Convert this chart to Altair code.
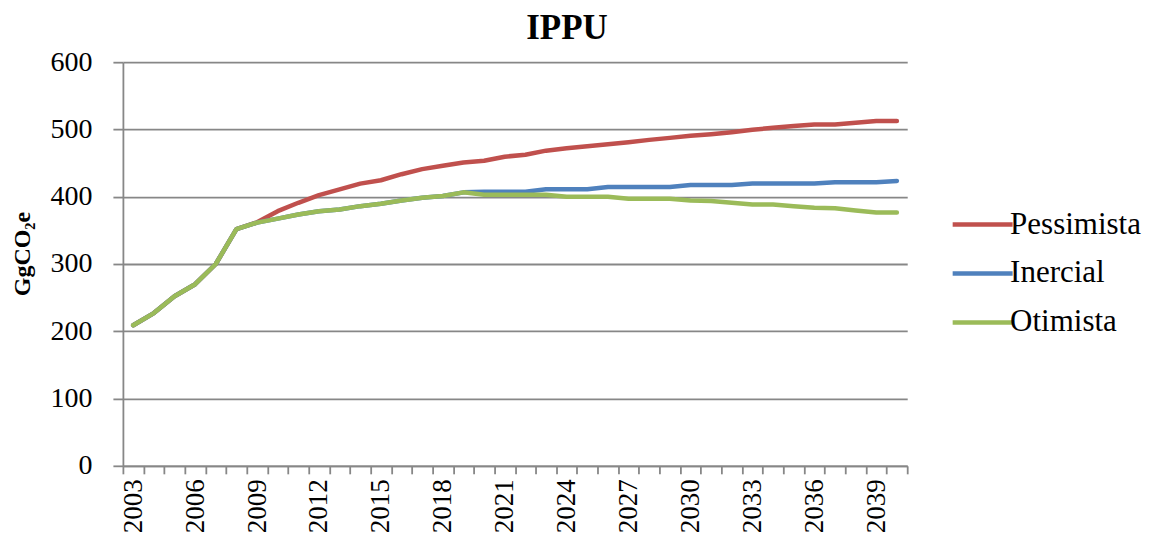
import altair as alt
import pandas as pd

years = list(range(2003, 2041))

pessimista = [209, 227, 252, 270, 300, 352, 362, 378.5, 391, 402.5, 411, 419.5, 424.5,
              433.5, 441, 446, 451, 453.5, 459.5, 462.5, 468.5, 472, 475, 478, 481,
              484.5, 487.5, 490.5, 493, 496, 499.5, 502.5, 505, 507.5, 507.5, 510,
              512.5, 512.5]

inercial = [209, 227, 252, 270, 300, 352, 361.5, 367.5, 373.5, 378.5, 381, 386, 389.5,
            394.5, 398.5, 401, 406.5, 407.5, 407.5, 407.5, 411, 411, 411, 414.5, 414.5,
            414.5, 414.5, 417.5, 417.5, 417.5, 419.5, 419.5, 419.5, 419.5, 421.5, 421.5,
            421.5, 423.5]

otimista = [209, 227, 252, 270, 300, 352, 361.5, 367.5, 373.5, 378.5, 381, 386, 389.5,
            394.5, 398.5, 401, 406.5, 403, 403, 403, 403, 400, 400, 400, 397, 397, 397,
            394.5, 393.5, 391, 388.5, 388.5, 386, 383.5, 383, 379.5, 376.5, 376.5]

series = ["Pessimista", "Inercial", "Otimista"]
colors = ["#C0504D", "#4F81BD", "#9BBB59"]
y_ticks = [0, 100, 200, 300, 400, 500, 600]

rows = []
for name, vals in zip(series, [pessimista, inercial, otimista]):
    for yr, v in zip(years, vals):
        rows.append({"Ano": yr, "Cenario": name, "Valor": v})
df = pd.DataFrame(rows)

FONT = "Liberation Serif"
GRAY = "#878787"

x_enc = alt.X(
    "Ano:O",
    bandPosition=0.5,
    scale=alt.Scale(type="band", paddingInner=0, paddingOuter=0),
    axis=alt.Axis(
        title=None,
        labelAngle=-90,
        labelExpr="(datum.value - 2003) % 3 == 0 ? datum.label : ''",
        labelOverlap=False,
        tickBand="extent",
        tickSize=8,
        tickColor=GRAY,
        tickWidth=1.8,
        domainColor=GRAY,
        domainWidth=1.8,
        labelPadding=5,
        labelFont=FONT,
        labelFontSize=27,
        labelColor="black",
        grid=False,
    ),
)

y_enc = alt.Y(
    "Valor:Q",
    scale=alt.Scale(domain=[0, 600], nice=False, zero=True),
    axis=alt.Axis(
        title="GgCO₂e",
        values=y_ticks,
        grid=True,
        gridColor=GRAY,
        gridWidth=1.8,
        domainColor=GRAY,
        domainWidth=1.8,
        tickColor=GRAY,
        tickWidth=1.8,
        tickSize=10,
        labelPadding=21,
        labelFont=FONT,
        labelFontSize=28,
        labelColor="black",
        titleFont=FONT,
        titleFontSize=24,
        titleFontWeight="bold",
        titleColor="black",
        titleX=-93,
        titleY=191.5,
        titleAngle=-90,
        titleAlign="center",
        titleBaseline="alphabetic",
    ),
)

color_enc = alt.Color(
    "Cenario:N",
    scale=alt.Scale(domain=series, range=colors),
    legend=alt.Legend(
        title=None,
        orient="none",
        legendX=825,
        legendY=147,
        symbolType="M-1,0H5",
        symbolSize=400,
        symbolStrokeWidth=4.5,
        labelOffset=32,
        labelFont=FONT,
        labelFontSize=31,
        labelColor="black",
        labelLimit=0,
        rowPadding=17,
    ),
)

base = alt.Chart(df).mark_line(strokeWidth=4.5, strokeCap="round", strokeJoin="round").encode(
    x=x_enc, y=y_enc, color=color_enc
)

layers = [base.transform_filter(alt.datum.Cenario == s) for s in series]

chart = alt.layer(*layers).properties(
    width=785,
    height=404,
    title=alt.TitleParams(
        "IPPU",
        font=FONT,
        fontSize=35,
        fontWeight="bold",
        color="black",
        anchor="middle",
        dx=52,
        dy=12,
        offset=14,
    ),
    autosize=alt.AutoSizeParams(type="none"),
    padding={"left": 115, "top": 54, "right": 236, "bottom": 66},
    background="white",
).configure_view(stroke=None)

chart.save("out.html", embed_options={"renderer": "svg", "actions": False})
